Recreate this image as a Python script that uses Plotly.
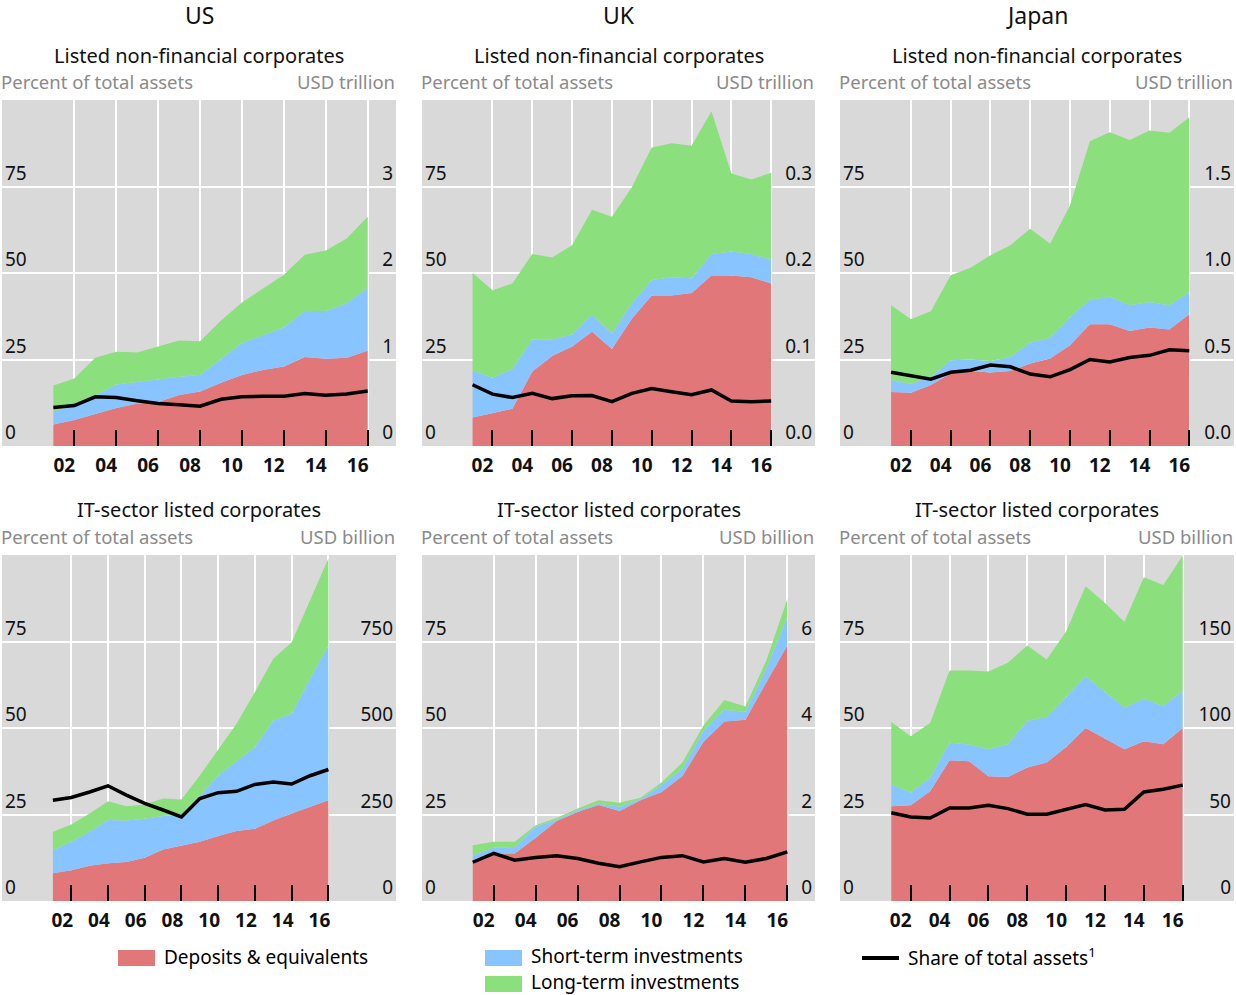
import plotly.graph_objects as go

# ---------------------------------------------------------------------------
# Data: year-end values 2001-2016
# ---------------------------------------------------------------------------
YEARS = list(range(2001, 2017))
TICK_YEARS = list(range(2002, 2017, 2))
TICK_LABELS = ["02", "04", "06", "08", "10", "12", "14", "16"]

# US, listed non-financial corporates (USD trillion; share in %)
us_nfc_deposits = [0.25, 0.30, 0.37, 0.44, 0.49, 0.51, 0.59, 0.63, 0.73, 0.82, 0.88, 0.92, 1.03, 1.01, 1.02, 1.10]
us_nfc_short = [0.15, 0.17, 0.21, 0.27, 0.25, 0.26, 0.21, 0.19, 0.28, 0.37, 0.40, 0.45, 0.53, 0.55, 0.63, 0.73]
us_nfc_long = [0.30, 0.31, 0.44, 0.38, 0.34, 0.38, 0.42, 0.39, 0.44, 0.47, 0.54, 0.61, 0.65, 0.70, 0.75, 0.82]
us_nfc_share = [11.1, 11.7, 14.2, 14.0, 13.1, 12.3, 11.9, 11.5, 13.5, 14.2, 14.4, 14.4, 15.2, 14.7, 15.0, 15.9]

# UK, listed non-financial corporates (USD trillion; share in %)
uk_nfc_deposits = [0.033, 0.038, 0.043, 0.086, 0.104, 0.115, 0.132, 0.112, 0.147, 0.174, 0.174, 0.177, 0.197, 0.197, 0.195, 0.188]
uk_nfc_short = [0.054, 0.041, 0.046, 0.037, 0.019, 0.014, 0.020, 0.018, 0.018, 0.018, 0.021, 0.017, 0.025, 0.028, 0.027, 0.027]
uk_nfc_long = [0.113, 0.101, 0.099, 0.099, 0.095, 0.103, 0.121, 0.135, 0.134, 0.153, 0.155, 0.153, 0.165, 0.090, 0.086, 0.101]
uk_nfc_share = [17.7, 15.0, 14.0, 15.2, 13.7, 14.5, 14.6, 12.8, 15.2, 16.6, 15.7, 14.8, 16.2, 13.0, 12.8, 13.0]

# Japan, listed non-financial corporates (USD trillion; share in %)
jp_nfc_deposits = [0.312, 0.308, 0.352, 0.419, 0.433, 0.425, 0.433, 0.477, 0.506, 0.583, 0.704, 0.704, 0.665, 0.685, 0.673, 0.762]
jp_nfc_short = [0.069, 0.050, 0.048, 0.077, 0.067, 0.067, 0.082, 0.121, 0.119, 0.163, 0.142, 0.158, 0.148, 0.148, 0.140, 0.128]
jp_nfc_long = [0.432, 0.375, 0.379, 0.491, 0.531, 0.610, 0.645, 0.658, 0.544, 0.644, 0.916, 0.951, 0.956, 0.990, 0.997, 1.010]
jp_nfc_share = [21.3, 20.3, 19.3, 21.3, 21.9, 23.4, 22.9, 20.8, 20.0, 22.1, 25.0, 24.3, 25.6, 26.2, 27.8, 27.5]

# US, IT-sector listed corporates (USD billion; share in %)
us_it_deposits = [80, 89, 102, 109, 113, 125, 149, 159, 171, 188, 202, 209, 233, 253, 272, 291]
us_it_short = [67, 82, 98, 125, 120, 113, 97, 91, 133, 175, 202, 236, 289, 288, 370, 447]
us_it_long = [53, 50, 53, 54, 41, 41, 50, 43, 59, 75, 108, 159, 178, 207, 226, 252]
us_it_share = [29.1, 29.9, 31.5, 33.3, 30.6, 28.2, 26.3, 24.3, 29.6, 31.3, 31.7, 33.7, 34.4, 33.8, 36.2, 38.0]

# UK, IT-sector listed corporates (USD billion; share in %)
uk_it_deposits = [0.95, 1.10, 1.10, 1.46, 1.85, 2.06, 2.22, 2.08, 2.33, 2.52, 2.89, 3.68, 4.15, 4.19, 5.06, 5.91]
uk_it_short = [0.10, 0.13, 0.15, 0.26, 0.03, 0.04, 0.03, 0.10, 0.02, 0.16, 0.17, 0.25, 0.27, 0.18, 0.31, 0.65]
uk_it_long = [0.24, 0.14, 0.12, 0.03, 0.04, 0.04, 0.08, 0.09, 0.04, 0.06, 0.14, 0.13, 0.23, 0.13, 0.19, 0.42]
uk_it_share = [11.2, 13.75, 11.8, 12.6, 13.1, 12.3, 10.9, 9.9, 11.3, 12.6, 13.1, 11.3, 12.3, 11.2, 12.3, 14.2]

# Japan, IT-sector listed corporates (USD billion; share in %)
jp_it_deposits = [54.8, 55.4, 63.5, 81.3, 80.8, 72.1, 71.7, 77.1, 80.0, 89.0, 100.0, 93.8, 87.7, 92.3, 90.6, 100.0]
jp_it_short = [12.5, 7.3, 7.8, 10.2, 9.6, 15.6, 18.9, 26.9, 26.3, 28.9, 29.8, 27.0, 24.0, 24.6, 22.1, 21.5]
jp_it_long = [36.2, 32.5, 31.6, 41.8, 42.9, 45.0, 47.1, 43.7, 33.3, 37.9, 52.1, 51.5, 49.5, 70.2, 70.0, 78.1]
jp_it_share = [25.5, 24.3, 24.0, 26.9, 26.9, 27.7, 26.7, 25.1, 25.1, 26.5, 27.9, 26.3, 26.5, 31.5, 32.3, 33.5]

PCT_TICKS = [0, 25, 50, 75]

SERIES_NAMES = ["Deposits & equivalents", "Short-term investments", "Long-term investments"]
SHARE_NAME = "Share of total assets"

# ---------------------------------------------------------------------------
# Styling
# ---------------------------------------------------------------------------
W, H = 1236, 995
FONT = "Noto Sans"
RED = "#e2777a"
BLUE = "#88c4ff"
GREEN = "#8bdf7c"
BG = "#d9d9d9"
GREY_TXT = "#8a8a8a"
TXT = "#111111"

panels = [
    dict(series=(us_nfc_deposits, us_nfc_short, us_nfc_long), share=us_nfc_share,
         usd_range=[0, 4], usd_ticks=[0, 1, 2, 3], usd_text=["0", "1", "2", "3"],
         px=(2, 396), py=(100, 446), xr=[1998.55, 2017.35]),
    dict(series=(uk_nfc_deposits, uk_nfc_short, uk_nfc_long), share=uk_nfc_share,
         usd_range=[0, 0.4], usd_ticks=[0, 0.1, 0.2, 0.3], usd_text=["0.0", "0.1", "0.2", "0.3"],
         px=(422, 815), py=(100, 446), xr=[1998.46, 2018.2]),
    dict(series=(jp_nfc_deposits, jp_nfc_short, jp_nfc_long), share=jp_nfc_share,
         usd_range=[0, 2], usd_ticks=[0, 0.5, 1.0, 1.5], usd_text=["0.0", "0.5", "1.0", "1.5"],
         px=(840, 1234), py=(100, 446), xr=[1998.43, 2018.25]),
    dict(series=(us_it_deposits, us_it_short, us_it_long), share=us_it_share,
         usd_range=[0, 1000], usd_ticks=[0, 250, 500, 750], usd_text=["0", "250", "500", "750"],
         px=(2, 396), py=(555, 901), xr=[1998.23, 2019.68]),
    dict(series=(uk_it_deposits, uk_it_short, uk_it_long), share=uk_it_share,
         usd_range=[0, 8], usd_ticks=[0, 2, 4, 6], usd_text=["0", "2", "4", "6"],
         px=(422, 815), py=(555, 901), xr=[1998.58, 2017.32]),
    dict(series=(jp_it_deposits, jp_it_short, jp_it_long), share=jp_it_share,
         usd_range=[0, 200], usd_ticks=[0, 50, 100, 150], usd_text=["0", "50", "100", "150"],
         px=(840, 1234), py=(555, 901), xr=[1998.36, 2018.64]),
]

fig = go.Figure()
layout = dict(
    width=W, height=H,
    margin=dict(l=0, r=0, t=0, b=0),
    paper_bgcolor="white",
    plot_bgcolor=BG,
    showlegend=False,
    font=dict(family=FONT, color=TXT),
)

for i, p in enumerate(panels):
    n = i + 1
    xa = "x" if n == 1 else f"x{n}"
    ya = "y" if n == 1 else f"y{n}"
    yb_n = n + 6
    yb = f"y{yb_n}"

    # stacked areas on the USD axis
    for vals, name, col in zip(p["series"], SERIES_NAMES, (RED, BLUE, GREEN)):
        fig.add_trace(go.Scatter(
            x=YEARS, y=vals, name=name, xaxis=xa, yaxis=ya,
            stackgroup=f"s{n}", mode="lines", line=dict(width=0, color=col),
            fillcolor=col, hoverinfo="x+y",
        ))
    # share of total assets on the percent axis (overlay, drawn on top)
    fig.add_trace(go.Scatter(
        x=YEARS, y=p["share"], name=SHARE_NAME, xaxis=xa, yaxis=yb,
        mode="lines", line=dict(color="black", width=3.5),
    ))

    x0, x1 = p["px"]
    ytop, ybot = p["py"]
    xdom = [x0 / W, x1 / W]
    ydom = [1 - ybot / H, 1 - ytop / H]
    ppy = (x1 - x0) / (p["xr"][1] - p["xr"][0])

    layout[f"xaxis{'' if n == 1 else n}"] = dict(
        domain=xdom, anchor=ya, range=p["xr"],
        tickmode="array", tickvals=TICK_YEARS, ticktext=TICK_LABELS,
        ticks="inside", ticklen=16, tickwidth=1.5, tickcolor="black",
        ticklabelshift=-round(ppy / 2), ticklabelstandoff=6,
        tickfont=dict(family=FONT, size=19, color=TXT, weight="bold"),
        showgrid=True, gridcolor="white", gridwidth=1.5,
        zeroline=False, showline=False, fixedrange=True,
    )
    layout[f"yaxis{'' if n == 1 else n}"] = dict(
        domain=ydom, anchor=xa, side="right", range=p["usd_range"],
        tickmode="array", tickvals=p["usd_ticks"], ticktext=p["usd_text"],
        ticks="", ticklabelposition="inside top",
        tickfont=dict(family=FONT, size=19, color=TXT),
        showgrid=True, gridcolor="white", gridwidth=1.5,
        zeroline=False, showline=False, fixedrange=True,
    )
    layout[f"yaxis{yb_n}"] = dict(
        overlaying=ya, anchor=xa, side="left", range=[0, 100],
        tickmode="array", tickvals=PCT_TICKS, ticktext=[str(v) for v in PCT_TICKS],
        ticks="", ticklabelposition="inside top",
        tickfont=dict(family=FONT, size=19, color=TXT),
        showgrid=False, zeroline=False, showline=False, fixedrange=True,
    )

fig.update_layout(**layout)

# ---------------------------------------------------------------------------
# Titles
# ---------------------------------------------------------------------------
def px_x(v):
    return v / W


def px_y(v):
    return 1 - v / H


annotations = []
countries = ["US", "UK", "Japan"]
for c, (x0, x1) in zip(countries, [(2, 396), (422, 815), (840, 1234)]):
    cx = (x0 + x1) / 2
    annotations.append(dict(text=c, x=px_x(cx), y=px_y(15), xref="paper", yref="paper",
                            showarrow=False, xanchor="center", yanchor="middle",
                            font=dict(family=FONT, size=23, color=TXT)))
    for sub, unit, yt, ys in [("Listed non-financial corporates", "USD trillion", 55, 82),
                              ("IT-sector listed corporates", "USD billion", 509, 536)]:
        annotations.append(dict(text=sub, x=px_x(cx), y=px_y(yt), xref="paper", yref="paper",
                                showarrow=False, xanchor="center", yanchor="middle",
                                font=dict(family=FONT, size=20, color=TXT)))
        annotations.append(dict(text="Percent of total assets", x=px_x(x0 - 3), y=px_y(ys),
                                xref="paper", yref="paper", showarrow=False,
                                xanchor="left", yanchor="middle",
                                font=dict(family=FONT, size=18.5, color=GREY_TXT)))
        annotations.append(dict(text=unit, x=px_x(x1 + 1), y=px_y(ys),
                                xref="paper", yref="paper", showarrow=False,
                                xanchor="right", yanchor="middle",
                                font=dict(family=FONT, size=18.5, color=GREY_TXT)))

# ---------------------------------------------------------------------------
# Legend (keys drawn as shapes, labels as text)
# ---------------------------------------------------------------------------
shapes = []
# (kind, colour, key x, key centre y, label centre y, label)
legend_items = [
    ("rect", RED, 118, 958, 957, SERIES_NAMES[0]),
    ("rect", BLUE, 485, 958, 956, SERIES_NAMES[1]),
    ("rect", GREEN, 485, 984, 982, SERIES_NAMES[2]),
    ("line", "black", 862, 958, 957, SHARE_NAME + "<sup>1</sup>"),
]
for kind, col, lx, ky, ty, label in legend_items:
    if kind == "rect":
        shapes.append(dict(type="rect", xref="paper", yref="paper",
                           x0=px_x(lx), x1=px_x(lx + 37), y0=px_y(ky + 8), y1=px_y(ky - 8),
                           fillcolor=col, line=dict(width=0)))
    else:
        shapes.append(dict(type="line", xref="paper", yref="paper",
                           x0=px_x(lx), x1=px_x(lx + 37), y0=px_y(ky), y1=px_y(ky),
                           line=dict(color=col, width=4)))
    annotations.append(dict(text=label, x=px_x(lx + 45), y=px_y(ty), xref="paper", yref="paper",
                            showarrow=False, xanchor="left", yanchor="middle", borderpad=0,
                            font=dict(family=FONT, size=19, color="black")))

fig.update_layout(annotations=annotations, shapes=shapes)

fig.write_html("out.html")
